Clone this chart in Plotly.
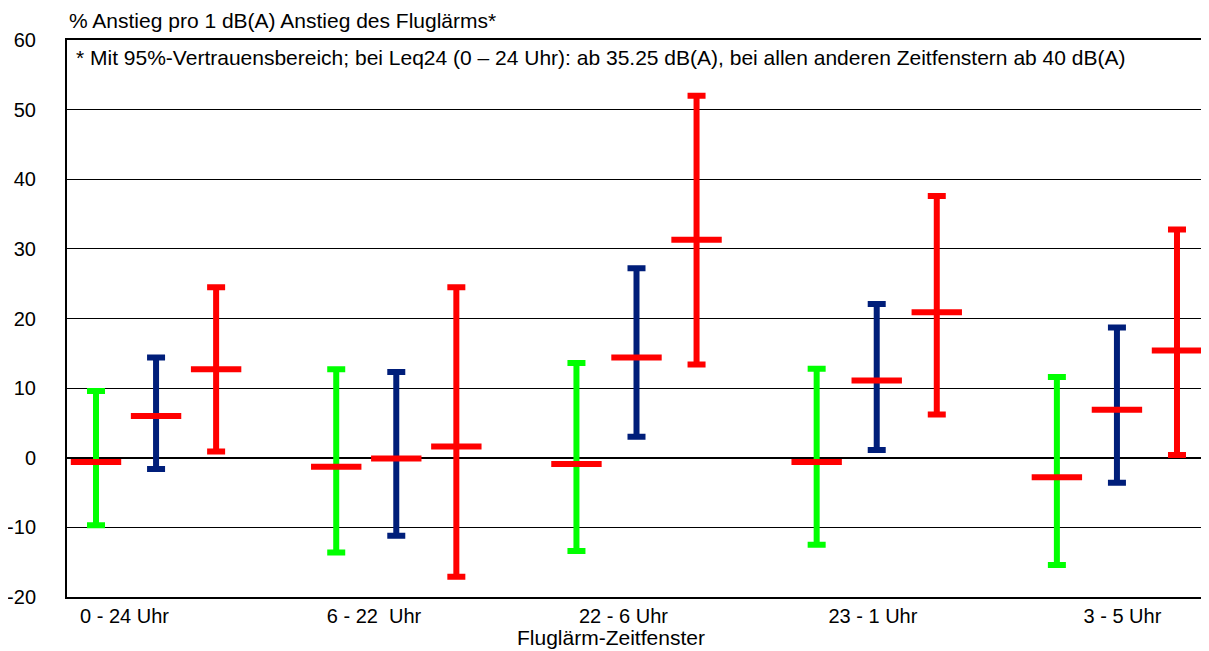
import plotly.graph_objects as go

windows = ["0 - 24 Uhr", "6 - 22  Uhr", "22 - 6 Uhr", "23 - 1 Uhr", "3 - 5 Uhr"]

mean_green = [-0.6, -1.3, -0.9, -0.6, -2.8]
low_green = [-9.7, -13.6, -13.4, -12.5, -15.4]
high_green = [9.6, 12.7, 13.6, 12.8, 11.6]

mean_navy = [6.0, -0.1, 14.4, 11.1, 6.9]
low_navy = [-1.6, -11.2, 3.0, 1.1, -3.6]
high_navy = [14.4, 12.3, 27.2, 22.1, 18.7]

mean_red = [12.7, 1.6, 31.3, 20.9, 15.4]
low_red = [0.9, -17.1, 13.4, 6.2, 0.4]
high_red = [24.5, 24.5, 52.0, 37.6, 32.8]

y_ticks = [-20, -10, 0, 10, 20, 30, 40, 50, 60]
y_tick_labels = [str(v) for v in y_ticks]

series = [
    ("grün", mean_green, low_green, high_green, "#00FF00"),
    ("blau", mean_navy, low_navy, high_navy, "#001E7A"),
    ("rot", mean_red, low_red, high_red, "#FF0000"),
]

FONT = "Arial, Liberation Sans, sans-serif"
fig = go.Figure()
for k, (name, m, lo, hi, col) in enumerate(series):
    xs = [g * 4 + k for g in range(len(windows))]
    fig.add_trace(go.Scatter(
        x=xs, y=m, mode="markers", name=name, showlegend=False,
        marker=dict(symbol="line-ew", size=36, color="#FF0000",
                    line=dict(color="#FF0000", width=6)),
        error_y=dict(type="data", symmetric=False,
                     array=[h - v for h, v in zip(hi, m)],
                     arrayminus=[v - l for v, l in zip(m, lo)],
                     color=col, thickness=6, width=9),
    ))

tickvals = [0.475 + 4.154 * i for i in range(len(windows))]

fig.update_layout(
    width=1201, height=643,
    margin=dict(l=59, r=3, t=32, b=54),
    paper_bgcolor="white", plot_bgcolor="white",
    font=dict(family=FONT, size=21, color="black"),
    xaxis=dict(range=[-0.483, 18.483], showgrid=False, zeroline=False,
               automargin=False,
               tickvals=tickvals, ticktext=windows, ticks="",
               showline=True, mirror=True, linecolor="black", linewidth=2,
               ticklabelstandoff=0, tickfont=dict(size=20)),
    yaxis=dict(range=[-20, 60], tickvals=y_ticks, ticktext=y_tick_labels,
               showgrid=True, automargin=False,
               gridcolor="black", gridwidth=1, zeroline=True,
               zerolinecolor="black", zerolinewidth=1.5,
               showline=True, mirror=True, linecolor="black", linewidth=2,
               ticks="", ticklabelstandoff=25, tickfont=dict(size=20)),
    annotations=[
        dict(text="% Anstieg pro 1 dB(A) Anstieg des Fluglärms*",
             xref="paper", yref="paper", x=0, y=1, yshift=20,
             xanchor="left", yanchor="middle", showarrow=False,
             font=dict(size=21)),
        dict(text="* Mit 95%-Vertrauensbereich; bei Leq24 (0 – 24 Uhr): ab 35.25 dB(A), bei allen anderen Zeitfenstern ab 40 dB(A)",
             xref="paper", yref="paper", x=0, xshift=7, y=1, yshift=-17,
             xanchor="left", yanchor="middle", showarrow=False,
             font=dict(size=21)),
        dict(text="Fluglärm-Zeitfenster",
             xref="paper", yref="paper", x=(611 - 67) / 1139, y=0, yshift=-40,
             xanchor="center", yanchor="middle", showarrow=False,
             font=dict(size=21)),
    ],
)

fig.write_html("out.html")
